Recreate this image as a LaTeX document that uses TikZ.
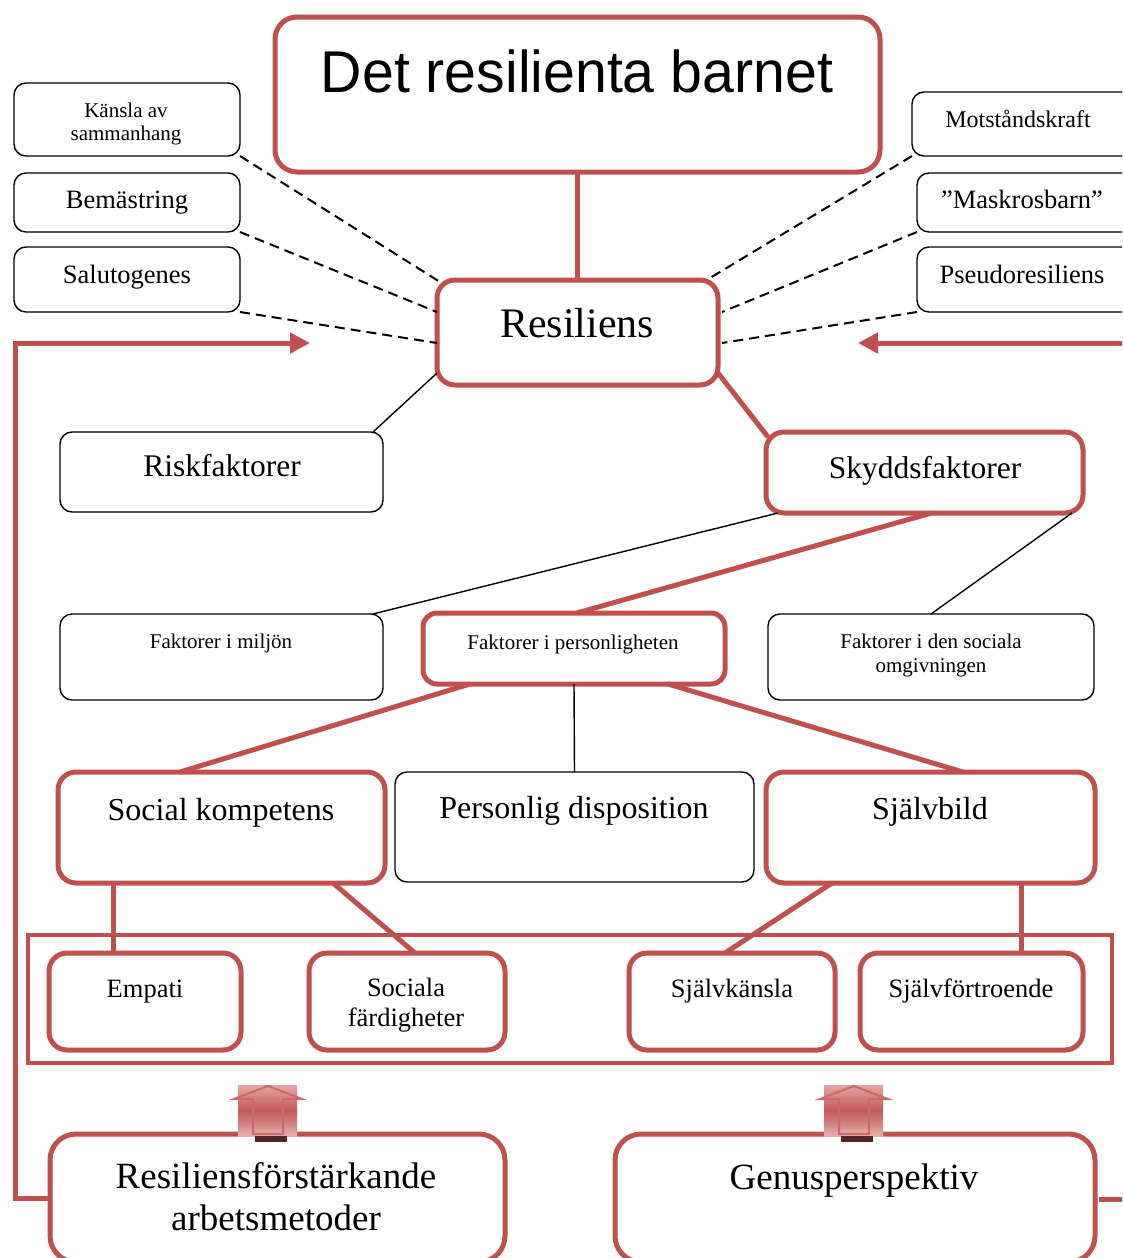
\documentclass[tikz,border=0pt]{standalone}
\usepackage{fontspec}
\setmainfont{Liberation Serif}
\newfontfamily\titlef[FakeStretch=0.97]{Liberation Sans}
\usetikzlibrary{arrows.meta,calc}
\definecolor{rc}{RGB}{192,80,77}
\newcommand\mkbox[6]{\node[#1, minimum width={#5-#3}, minimum height={#6-#4}] (#2) at ({(#3+#5)/2},{(#4+#6)/2}) {};}
\newcommand\fsz[1]{\fontsize{#1}{#1}\selectfont}
\begin{document}
\begin{tikzpicture}[x=1pt,y=-1pt,
 redbox/.style={draw=rc, line width=5pt, rounded corners=18pt, fill=white, inner sep=0pt, outer sep=0pt},
 blkbox/.style={draw=black, line width=1.4pt, rounded corners=12pt, fill=white, inner sep=0pt, outer sep=0pt},
 txt/.style={anchor=base, inner sep=0pt},
 dsh/.style={draw=black, line width=2pt, dash pattern=on 10pt off 6pt},
 thinc/.style={draw=black, line width=1.4pt},
 thickc/.style={draw=rc, line width=5pt},
 redarr/.style={draw=rc, line width=5pt, -{Triangle[length=20pt,width=20pt]}},
 uparr/.pic={
   \shade[top color=rc!50!white, bottom color=rc!45!white, middle color=rc!95!white] (238,1085) rectangle (297,1136);
   \draw[rc!85!white, line width=2pt, line join=miter] (253,1134) -- (253,1099) -- (234,1099) -- (268,1086) -- (302,1099) -- (283,1099) -- (283,1134) -- cycle;
   \fill[rc!45!black] (255,1136) rectangle (287,1142);
 }
 ]
\useasboundingbox (0,0) rectangle (1122,1258);
\clip (0,0) rectangle (1122,1258);

% big frame
\draw[rc, line width=4.5pt] (28,935) rectangle (1112,1063);

% boxes
\mkbox{redbox, rounded corners=22pt}{title}{275}{17}{880}{172}
\mkbox{redbox}{res}{437}{280}{718}{385}
\mkbox{blkbox}{kansla}{14}{83}{240}{156}
\mkbox{blkbox}{bem}{14}{173}{240}{232}
\mkbox{blkbox}{salu}{14}{247}{240}{312}
\mkbox{blkbox}{mot}{912}{92}{1140}{156}
\mkbox{blkbox}{mask}{917}{173}{1140}{232}
\mkbox{blkbox}{pseudo}{917}{247}{1140}{312}
\mkbox{blkbox}{risk}{60}{432}{383}{512}
\mkbox{redbox}{skydd}{766}{432}{1083}{513}
\mkbox{blkbox}{miljo}{60}{614}{383}{700}
\mkbox{redbox, rounded corners=14pt}{pers}{423}{613}{725}{684}
\mkbox{blkbox}{soc}{768}{614}{1094}{700}
\mkbox{redbox}{skomp}{58}{772}{385}{883}
\mkbox{blkbox}{disp}{395}{772}{754}{882}
\mkbox{redbox}{sjalv}{766}{772}{1095}{883}
\mkbox{redbox}{emp}{49}{953}{241}{1050}
\mkbox{redbox}{sfard}{309}{953}{505}{1050}
\mkbox{redbox}{sk}{629}{953}{835}{1050}
\mkbox{redbox}{sf}{860}{953}{1083}{1050}
\mkbox{redbox, rounded corners=26pt}{meth}{50}{1134}{505}{1262}
\mkbox{redbox, rounded corners=26pt}{genus}{615}{1134}{1095}{1262}

% texts
\node[txt] at (577,92) {\titlef\fsz{59}Det resilienta barnet};
\node[txt] at (577,337) {\fsz{42}Resiliens};
\node[txt] at (126,117) {\fsz{21}Känsla av};
\node[txt] at (126,140) {\fsz{21}sammanhang};
\node[txt] at (127,208) {\fsz{26.5}Bemästring};
\node[txt] at (127,283) {\fsz{26.5}Salutogenes};
\node[txt] at (1018,127) {\fsz{24}Motståndskraft};
\node[txt] at (1022,208) {\fsz{26.5}”Maskrosbarn”};
\node[txt] at (1022,283) {\fsz{26.5}Pseudoresiliens};
\node[txt] at (222,476) {\fsz{31.5}Riskfaktorer};
\node[txt] at (925,478) {\fsz{31.5}Skyddsfaktorer};
\node[txt] at (221,648) {\fsz{21}Faktorer i miljön};
\node[txt] at (573,649) {\fsz{21}Faktorer i personligheten};
\node[txt] at (931,648) {\fsz{21}Faktorer i den sociala};
\node[txt] at (931,672) {\fsz{21}omgivningen};
\node[txt] at (221,820) {\fsz{32}Social kompetens};
\node[txt] at (574,818) {\fsz{32}Personlig disposition};
\node[txt] at (930,819) {\fsz{32}Självbild};
\node[txt] at (145,997) {\fsz{26.5}Empati};
\node[txt] at (406,996) {\fsz{26.5}Sociala};
\node[txt] at (406,1026) {\fsz{26.5}färdigheter};
\node[txt] at (732,997) {\fsz{26.5}Självkänsla};
\node[txt] at (971,997) {\fsz{26.5}Självförtroende};
\node[txt] at (276,1188) {\fsz{37}Resiliensförstärkande};
\node[txt] at (276,1230) {\fsz{37}arbetsmetoder};
\node[txt] at (854,1189) {\fsz{37}Genusperspektiv};

% connectors
\draw[thickc] (title.south) -- (res.north);
\draw[dsh] (kansla.south east) -- ($(res.north west)+(3,2)$);
\draw[dsh] (bem.south east) -- ($(res.north west)+(0,32)$);
\draw[dsh] (salu.south east) -- ($(res.north west)+(0,63)$);
\draw[dsh] (mot.south west) -- ($(res.north east)+(-8,-2)$);
\draw[dsh] (mask.south west) -- ($(res.north east)+(4,32)$);
\draw[dsh] (pseudo.south west) -- ($(res.north east)+(4,63)$);
\draw[thinc] ($(res.south west)+(0,-12)$) -- ($(risk.north east)+(-10,0)$);
\draw[thickc] ($(res.south east)+(0,-12)$) -- ($(skydd.north west)+(2,5)$);
\draw[thinc] ($(skydd.south west)+(12,0)$) -- ($(miljo.north east)+(-10,0)$);
\draw[thickc] ($(skydd.south)+(7,0)$) -- ($(pers.north)+(3,0)$);
\draw[thinc] ($(skydd.south east)+(-11,0)$) -- (soc.north);
\draw[thickc] ($(pers.south west)+(47,0)$) -- ($(skomp.north west)+(122,0)$);
\draw[thinc] (pers.south) -- (disp.north);
\draw[thickc] ($(pers.south east)+(-57,0)$) -- ($(sjalv.north east)+(-132,0)$);
\draw[thickc] ($(skomp.south west)+(55,0)$) -- ($(emp.north west)+(64,0)$);
\draw[thickc] ($(skomp.south west)+(275,0)$) -- ($(sfard.north west)+(106,0)$);
\draw[thickc] ($(sjalv.south west)+(66,0)$) -- ($(sk.north west)+(96,0)$);
\draw[thickc] ($(sjalv.south east)+(-74,0)$) -- ($(sf.north west)+(161,0)$);

% feedback loops
\coordinate (ltip) at (310,343);
\coordinate (rtip) at (858,343);
\coordinate (redge) at (1130,343);
\coordinate (redge2) at (1130,1199);
\draw[redarr, line join=miter] (meth.west) -- (15,1198) |- (ltip);
\draw[redarr] (redge) -- (rtip);
\draw[thickc] ($(genus.east)+(4,1)$) -- (redge2);

% up arrows
\pic at (0,0) {uparr};
\pic at (586,0) {uparr};
\end{tikzpicture}
\end{document}
